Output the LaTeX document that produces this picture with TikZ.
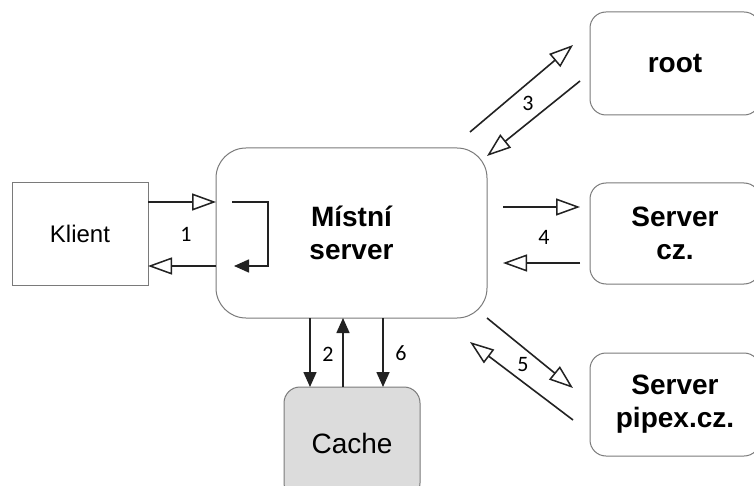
\documentclass[tikz,border=0pt]{standalone}
\usepackage{fontspec}
\setmainfont{Liberation Sans}
\newfontfamily\numfont{Carlito}
\usetikzlibrary{arrows.meta}
\definecolor{boxline}{HTML}{7A7A7A}
\definecolor{arr}{HTML}{222222}
\definecolor{cachefill}{HTML}{DCDCDC}
\tikzset{
  box/.style={draw=boxline, line width=1pt, inner sep=0pt, align=center, text=black},
  bigbold/.style={font=\fontsize{28}{33}\selectfont\bfseries},
  openarr/.style={draw=arr, line width=1.6pt, -{Triangle[open,length=24pt,width=17pt,line width=1.5pt]}},
  fillarr/.style={draw=arr, line width=1.6pt, -{Triangle[length=15pt,width=13pt]}},
  num/.style={font=\numfont\fontsize{22}{22}\selectfont, text=black, inner sep=0pt}
}
\begin{document}
\begin{tikzpicture}[x=1pt,y=-1pt]
\clip (0,0) rectangle (754,486);
\fill[white] (0,0) rectangle (754,486);
% nodes
\node[box, minimum width=136pt, minimum height=102pt, font=\fontsize{24}{28}\selectfont] (klient) at (80,234) {Klient};
\node[box, rounded corners=30pt, minimum width=271pt, minimum height=170pt, bigbold] (mistni) at (351.5,233) {Místní\\server};
\node[box, rounded corners=16pt, fill=cachefill, minimum width=136pt, minimum height=112pt, font=\fontsize{28}{32}\selectfont] (cache) at (352,443) {Cache};
\node[box, rounded corners=16pt, minimum width=170pt, minimum height=103pt, bigbold] (root) at (675,63.5) {root};
\node[box, rounded corners=16pt, minimum width=170pt, minimum height=101pt, bigbold] (cz) at (675,233.5) {Server\\cz.};
\node[box, rounded corners=16pt, minimum width=170pt, minimum height=103pt, bigbold] (pipex) at (675,404.5) {Server\\pipex.cz.};
% coordinates for the connector ends
\coordinate (k1) at (148,202);
\coordinate (m1) at (216,202);
\coordinate (m2) at (216,266);
\coordinate (k2) at (148,266);
\coordinate (l1) at (232,202);
\coordinate (l2) at (268,202);
\coordinate (l3) at (268,266);
\coordinate (l4) at (234,266);
\coordinate (c1a) at (310,318);
\coordinate (c1b) at (310,387);
\coordinate (c2a) at (343,387);
\coordinate (c2b) at (343,318);
\coordinate (c3a) at (383,318);
\coordinate (c3b) at (383,387);
\coordinate (r1a) at (470,132);
\coordinate (r1b) at (573,45);
\coordinate (r2a) at (580,81);
\coordinate (r2b) at (487,156);
\coordinate (s1a) at (503,207);
\coordinate (s1b) at (580,207);
\coordinate (s2a) at (580,263);
\coordinate (s2b) at (503,263);
\coordinate (p1a) at (487,318);
\coordinate (p1b) at (573,388);
\coordinate (p2a) at (573,420);
\coordinate (p2b) at (470,342);
% connectors
\draw[openarr] (k1) -- (m1);
\draw[openarr] (m2) -- (k2);
\draw[fillarr] (l1) -- (l2) -- (l3) -- (l4);
\draw[fillarr] (c1a) -- (c1b);
\draw[fillarr] (c2a) -- (c2b);
\draw[fillarr] (c3a) -- (c3b);
\draw[openarr] (r1a) -- (r1b);
\draw[openarr] (r2a) -- (r2b);
\draw[openarr] (s1a) -- (s1b);
\draw[openarr] (s2a) -- (s2b);
\draw[openarr] (p1a) -- (p1b);
\draw[openarr] (p2a) -- (p2b);
% labels
\node[num] (n1) at (186,234) {1};
\node[num] (n2) at (328,354) {2};
\node[num] (n6) at (401,353) {6};
\node[num] (n3) at (528,103) {3};
\node[num] (n4) at (544,237) {4};
\node[num] (n5) at (523,365) {5};
\end{tikzpicture}
\end{document}
